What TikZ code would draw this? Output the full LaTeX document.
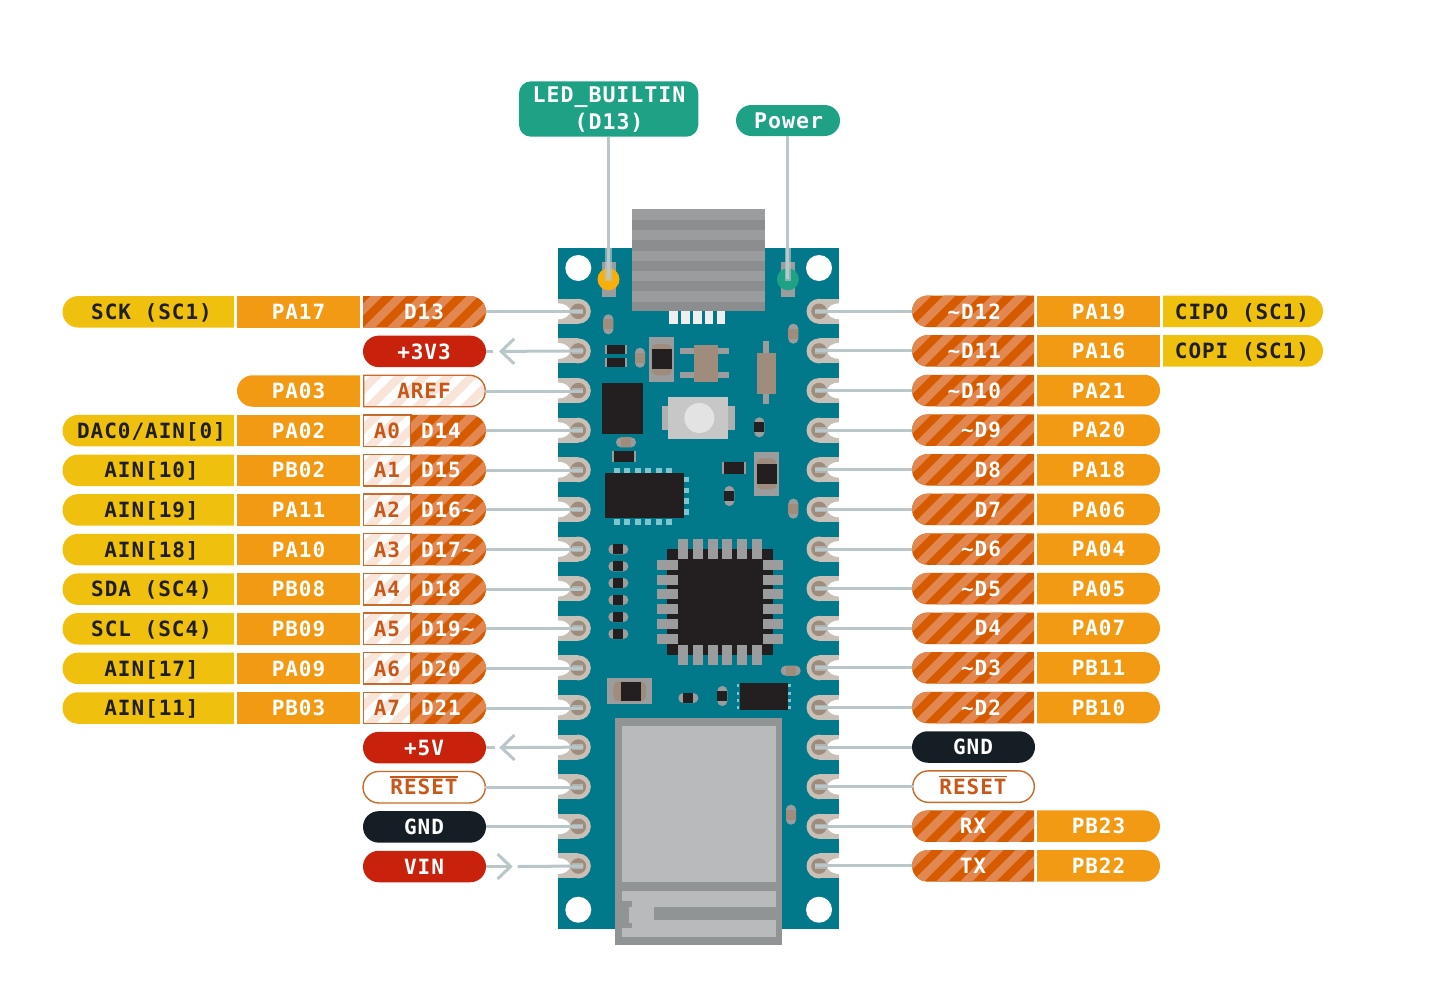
\documentclass[tikz,border=0pt]{standalone}
\usepackage{fontspec}
\usetikzlibrary{shapes.misc,arrows.meta}
\newfontfamily\pinfont[BoldFont={DejaVu Sans Mono Bold},LetterSpace=4.6]{DejaVu Sans Mono}
\definecolor{cyellow}{HTML}{F0C00F}
\definecolor{corange}{HTML}{F39A14}
\definecolor{hdark}{HTML}{D65A00}
\definecolor{hlight}{HTML}{E2874F}
\definecolor{hpale}{HTML}{F9E4D9}
\definecolor{cred}{HTML}{C8220C}
\definecolor{cblack}{HTML}{161E25}
\definecolor{ctext}{HTML}{C8581A}
\definecolor{cborder}{HTML}{C9692A}
\definecolor{cteal}{HTML}{1FA186}
\definecolor{cboard}{HTML}{02798A}
\definecolor{cwire}{HTML}{B9C6CA}
\definecolor{cpad}{HTML}{C8C0B7}
\definecolor{cbrown}{HTML}{A08C7C}
\definecolor{cgray}{HTML}{9A9C9D}
\definecolor{cgrayd}{HTML}{8B8D8E}
\definecolor{cchip}{HTML}{231F20}
\definecolor{csky}{HTML}{7FC5CE}
\definecolor{cmod}{HTML}{919494}
\definecolor{cmodl}{HTML}{B8BABB}
\newcommand\tld{\char"7E }
\newcommand\usc{\char"5F }
\tikzset{
  seg/.style={inner sep=0pt,outer sep=0pt,minimum height=31.5pt},
  pillboth/.style={seg,rounded rectangle},
  pillwest/.style={seg,rounded rectangle,rounded rectangle east arc=none},
  pilleast/.style={seg,rounded rectangle,rounded rectangle west arc=none},
  box/.style={seg,rectangle},
  hatch/.style 2 args={fill=#1,path picture={
    \foreach \k in {-3,...,9}{
      \fill[#2] ([xshift=\k*24pt]path picture bounding box.south west) -- ++(12,0) -- ++(34,-34) -- ++(-12,0) -- cycle;
    }}},
  fyellow/.style={fill=cyellow},
  forange/.style={fill=corange},
  fred/.style={fill=cred},
  fblack/.style={fill=cblack},
  dighatch/.style={hatch={hdark}{hlight}},
  palehatch/.style={hatch={white}{hpale},draw=cborder,line width=1.4pt},
  outl/.style={fill=white,draw=cborder,line width=1.4pt},
  pintext/.style={font=\pinfont\bfseries\fontsize{21}{24}\selectfont,inner sep=0pt,outer sep=0pt},
  tagtext/.style={font=\pinfont\bfseries\fontsize{21.6}{24}\selectfont,inner sep=0pt,outer sep=0pt,text=white},
  tdark/.style={pintext,text=black!88},
  twhite/.style={pintext,text=white},
  torange/.style={pintext,text=ctext},
  wire/.style={draw=cwire,line width=3pt},
  chev/.style={wire,-{Straight Barb[length=13pt,width=25pt]}},
  zoomA/.style={shift={(550,200)},x=.333333pt,y=-.333333pt},
  zoomB/.style={shift={(550,520)},x=.333333pt,y=-.333333pt},
  zoomC/.style={shift={(550,700)},x=.333333pt,y=-.333333pt},
}
\newcommand\seg[5]{\node[#2,minimum width={(#4-#3)*1pt}] (#1) at ({(#3+#4)/2},#5) {};}
\newcommand\txt[6]{\node[#2,anchor=#5] (#1) at (#3,{#4+7.7}) {#6};}
% left rows
\newcommand\leftrow[5]{%
  \pgfmathsetmacro\yy{311.8+39.62*#1}%
  \seg{ly#1}{pillwest,fyellow}{62.5}{234}{\yy}\txt{tly#1}{tdark}{151.5}{\yy}{base}{#2}%
  \seg{lo#1}{box,forange}{237}{360}{\yy}\txt{tlo#1}{twhite}{298.5}{\yy}{base}{#3}%
  \seg{la#1}{box,palehatch}{363.7}{411}{\yy}\txt{tla#1}{torange}{387}{\yy}{base}{#4}%
  \seg{ld#1}{pilleast,dighatch}{411}{486}{\yy}\txt{tld#1}{twhite}{421}{\yy}{base west}{#5}%
}
% right rows
\newcommand\rightrow[3]{%
  \pgfmathsetmacro\yy{311.3+39.62*#1}%
  \seg{rd#1}{pillwest,dighatch}{912}{1034}{\yy}\txt{trd#1}{twhite}{1001}{\yy}{base east}{#2}%
  \seg{ro#1}{pilleast,forange}{1037}{1160}{\yy}\txt{tro#1}{twhite}{1098.5}{\yy}{base}{#3}%
}
\newcommand\capV[3]{\fill[cgray,rounded corners=4.9pt] (#1-15,#2-30) rectangle (#1+15,#2+30);\fill[#3] (#1-15,#2-15) rectangle (#1+15,#2+15);}
\newcommand\capH[3]{\fill[cgray,rounded corners=4.9pt] (#1-30,#2-15) rectangle (#1+30,#2+15);\fill[#3] (#1-15,#2-15) rectangle (#1+15,#2+15);}
\begin{document}
\begin{tikzpicture}[x=1pt,y=-1pt]
\useasboundingbox (0,0) rectangle (1447,1002);
% board
\fill[cboard] (558,248) rectangle (839.3,929.3);
% heat sink / USB shell
\begin{scope}[zoomA]
  \fill[cgray] (246,28) rectangle (645,332);
  \foreach \a/\b in {60/90,120/152,182/212,243/273,305/332}{\fill[cgrayd] (246,\a) rectangle (645,\b);}
  \foreach \a in {358,394,430,465,501}{\fill[white!84!cgray] (\a,333) rectangle (\a+25,373);}
\end{scope}
% mounting holes
\foreach \x/\y in {578.3/268,819/268,578.3/909.7,819/909.7}{\fill[white] (\x,\y) circle[radius=13];}
% castellated pads
\foreach \i in {0,...,14}{
  \pgfmathsetmacro\py{311.3+39.62*\i}
  \fill[cpad] (558,\py-12.5) rectangle (578.3,\py+12.5);
  \fill[cpad] (578.3,\py) circle[radius=12.5];
  \fill[white] (558,\py) ellipse[x radius=12,y radius=8];
  \fill[cbrown] (578.3,\py) circle[radius=7.8];
  \fill[cpad] (839.3,\py-12.5) rectangle (819,\py+12.5);
  \fill[cpad] (819,\py) circle[radius=12.5];
  \fill[white] (839.3,\py) ellipse[x radius=12,y radius=8];
  \fill[cbrown] (819,\py) circle[radius=7.8];
  \fill[cwire!70!cbrown] (572,\py-2.8) rectangle (583.3,\py+2.8);
  \fill[cwire!70!cbrown] (815,\py-2.8) rectangle (826,\py+2.8);
  \coordinate (lp\i) at (583.3,\py);
  \coordinate (rp\i) at (815,\py);
}
% upper components
\begin{scope}[zoomA]
  \capV{175}{373}{cbrown}\capV{270}{473}{cbrown}\capV{730}{401}{cbrown}\capV{730}{926}{cbrown}
  \capH{228}{727}{cbrown}\capV{628}{682}{cchip}\capV{538}{888}{cchip}
  \fill[cgray] (165,434) rectangle (232,463);\fill[cchip] (171,434) rectangle (226,463);
  \fill[cgray] (165,473) rectangle (232,502);\fill[cchip] (171,473) rectangle (226,502);
  \fill[cgray] (187,752) rectangle (257,787);\fill[cchip] (192,752) rectangle (252,787);
  \fill[cgray] (517,785) rectangle (587,822);\fill[cchip] (522,785) rectangle (582,822);
  % large capacitors
  \fill[cgray] (297,412) rectangle (373,545);\fill[cbrown,rounded corners=5pt] (305,432) rectangle (365,526);\fill[cchip] (305,447) rectangle (365,508);
  \fill[cgray] (611,755) rectangle (687,888);\fill[cbrown,rounded corners=5pt] (620,775) rectangle (680,868);\fill[cchip] (620,792) rectangle (680,852);
  % transistor and diode
  \fill[cgray] (390,445) rectangle (538,463);\fill[cgray] (390,516) rectangle (538,535);\fill[cbrown] (433,435) rectangle (505,545);
  \fill[cgray] (640,422) rectangle (658,612);\fill[cbrown] (620,460) rectangle (678,583);
  % black block and button
  \fill[cchip] (157,549) rectangle (279,702);
  \fill[cgray!80!white] (337,617) rectangle (555,690);
  \fill[white!78!black] (355,592) rectangle (533,716);
  \fill[white!89!black] (448,654) circle[radius=45];
  % chip with pads
  \fill[cchip] (165,820) rectangle (401,955);
  \foreach \a in {192,223,255,286,318,349}{\fill[csky] (\a,803) rectangle (\a+18,818);\fill[csky] (\a,958) rectangle (\a+18,974);}
  \foreach \a in {830,863,895,928}{\fill[csky] (402,\a) rectangle (416,\a+17);}
\end{scope}
\begin{scope}[zoomB]
  \foreach \a in {88,139,189,240,291,342}{\capH{205}{\a}{cchip}}
  \capH{415}{534}{cchip}\capV{517}{528}{cchip}\capH{722}{452}{cbrown}
  % microcontroller
  \fill[cchip] (351,86) rectangle (669,404);
  \foreach \a in {400,444,488,532,577,621}{\fill[cgray] (\a-15,56) rectangle (\a+15,118);\fill[cgray] (\a-15,374) rectangle (\a+15,435);}
  \foreach \a in {135,179,223,267,313,357}{\fill[cgray] (321,\a-15) rectangle (383,\a+15);\fill[cgray] (638,\a-15) rectangle (699,\a+15);}
  % large inductor
  \fill[cgray] (172,475) rectangle (306,551);\fill[cbrown,rounded corners=5pt] (190,485) rectangle (288,543);\fill[cchip] (212,485) rectangle (272,543);
  % small chip
  \fill[cchip] (571,489) rectangle (713,570);
  \foreach \a in {493,515,536,558}{\fill[csky] (562,\a) rectangle (568,\a+9);\fill[csky] (715,\a) rectangle (722,\a+9);}
\end{scope}
\begin{scope}[zoomC]
  \capV{723}{344}{cbrown}
  % radio module
  \fill[cmod] (195,53) rectangle (697,735);
  \fill[cmodl] (217,78) rectangle (677,546);
  \fill[cmodl] (217,573) rectangle (677,710);
  \fill[cmod] (311,622) rectangle (677,660);
  \fill[cmod] (217,603) rectangle (238,683);
  \fill[cmod] (217,603) rectangle (246,620);
  \fill[cmod] (217,668) rectangle (246,683);
\end{scope}
% LEDs
\fill[cgray] (602.3,261.7) rectangle (615.7,296.7);
\fill[cgray] (781,261.7) rectangle (795,296.7);
\node[circle,fill=corange!60!yellow!90!red,minimum size=22pt,inner sep=0pt,outer sep=0pt] (ledy) at (608.5,279.3) {};
\node[circle,fill=cteal,minimum size=22pt,inner sep=0pt,outer sep=0pt] (ledg) at (787.9,279.3) {};
\fill[cwire,opacity=.65] (605.3,248) rectangle (611.7,281);
\fill[cwire,opacity=.65] (784.7,248) rectangle (791.1,281);
% top tags
\fill[cteal,rounded corners=12pt] (519,81.3) rectangle (698.3,136.7);
\coordinate (ledtagS) at (608.5,136.7);
\node[tagtext,anchor=base] (ledtag1) at (609,102.7) {LED\usc BUILTIN};
\node[tagtext,anchor=base] (ledtag2) at (609,129) {(D13)};
\node[pillboth,fill=cteal,minimum width=104pt,minimum height=31pt] (pwrtag) at (788,120.5) {};
\node[tagtext,anchor=base] (pwrtxt) at (788.5,128.3) {Power};
\draw[wire] (ledtagS) -- (ledy.center);
\draw[wire] (pwrtag.south -| ledg.center) -- (ledg.center);
% left side
\leftrow{3}{DAC0/AIN[0]}{PA02}{A0}{D14}
\leftrow{4}{AIN[10]}{PB02}{A1}{D15}
\leftrow{5}{AIN[19]}{PA11}{A2}{D16\tld}
\leftrow{6}{AIN[18]}{PA10}{A3}{D17\tld}
\leftrow{7}{SDA (SC4)}{PB08}{A4}{D18}
\leftrow{8}{SCL (SC4)}{PB09}{A5}{D19\tld}
\leftrow{9}{AIN[17]}{PA09}{A6}{D20}
\leftrow{10}{AIN[11]}{PB03}{A7}{D21}
\seg{ly0}{pillwest,fyellow}{62.5}{234}{311.8}\txt{tly0}{tdark}{151.5}{311.8}{base}{SCK (SC1)}
\seg{lo0}{box,forange}{237}{360}{311.8}\txt{tlo0}{twhite}{298.5}{311.8}{base}{PA17}
\seg{ld0}{pilleast,dighatch}{363}{486}{311.8}\txt{tld0}{twhite}{424}{311.8}{base}{D13}
\seg{ld1}{pillboth,fred}{363}{486}{351.4}\txt{tld1}{twhite}{424}{351.4}{base}{+3V3}
\seg{lo2}{pillwest,forange}{237}{360}{391}\txt{tlo2}{twhite}{298.5}{391}{base}{PA03}
\seg{ld2}{pilleast,palehatch}{363.7}{485.3}{391}\txt{tld2}{torange}{424}{391}{base}{AREF}
\seg{ld11}{pillboth,fred}{363}{486}{747.6}\txt{tld11}{twhite}{424}{747.6}{base}{+5V}
\seg{ld12}{pillboth,outl}{363}{485.3}{787.2}\txt{tld12}{torange}{424}{787.2}{base}{RESET}
\seg{ld13}{pillboth,fblack}{363}{486}{826.9}\txt{tld13}{twhite}{424}{826.9}{base}{GND}
\seg{ld14}{pillboth,fred}{363}{486}{866.5}\txt{tld14}{twhite}{424}{866.5}{base}{VIN}
\draw[draw=ctext,line width=1.5pt] ([yshift=2.3pt]tld12.north west) -- ([yshift=2.3pt]tld12.north east);
% right side
\seg{rd0}{pillwest,dighatch}{912}{1034}{311.3}\txt{trd0}{twhite}{1001}{311.3}{base east}{\tld D12}
\seg{ro0}{box,forange}{1037}{1160}{311.3}\txt{tro0}{twhite}{1098.5}{311.3}{base}{PA19}
\seg{ry0}{pilleast,fyellow}{1163}{1323}{311.3}\txt{try0}{tdark}{1242}{311.3}{base}{CIPO (SC1)}
\seg{rd1}{pillwest,dighatch}{912}{1034}{350.9}\txt{trd1}{twhite}{1001}{350.9}{base east}{\tld D11}
\seg{ro1}{box,forange}{1037}{1160}{350.9}\txt{tro1}{twhite}{1098.5}{350.9}{base}{PA16}
\seg{ry1}{pilleast,fyellow}{1163}{1323}{350.9}\txt{try1}{tdark}{1242}{350.9}{base}{COPI (SC1)}
\rightrow{2}{\tld D10}{PA21}
\rightrow{3}{\tld D9}{PA20}
\rightrow{4}{D8}{PA18}
\rightrow{5}{D7}{PA06}
\rightrow{6}{\tld D6}{PA04}
\rightrow{7}{\tld D5}{PA05}
\rightrow{8}{D4}{PA07}
\rightrow{9}{\tld D3}{PB11}
\rightrow{10}{\tld D2}{PB10}
\seg{rd11}{pillboth,fblack}{912}{1035}{747}\txt{trd11}{twhite}{973}{747}{base}{GND}
\seg{rd12}{pillboth,outl}{912.7}{1034.3}{786.6}\txt{trd12}{torange}{973}{786.6}{base}{RESET}
\draw[draw=ctext,line width=1.5pt] ([yshift=2.3pt]trd12.north west) -- ([yshift=2.3pt]trd12.north east);
\seg{rd13}{pillwest,dighatch}{912}{1034}{826.2}\txt{trd13}{twhite}{973}{826.2}{base}{RX}
\seg{ro13}{pilleast,forange}{1037}{1160}{826.2}\txt{tro13}{twhite}{1098.5}{826.2}{base}{PB23}
\seg{rd14}{pillwest,dighatch}{912}{1034}{865.9}\txt{trd14}{twhite}{973}{865.9}{base}{TX}
\seg{ro14}{pilleast,forange}{1037}{1160}{865.9}\txt{tro14}{twhite}{1098.5}{865.9}{base}{PB22}
% connectors
\foreach \i in {0,2,3,4,5,6,7,8,9,10,12,13}{\draw[wire] (ld\i.east) -- (ld\i.east -| lp\i);}
\foreach \i in {0,...,14}{\draw[wire] (rd\i.west) -- (rp\i |- rd\i.west);}
\coordinate (tipA) at (499,351.4);
\coordinate (dashA) at (493,351.4);
\draw[chev] (lp1) -- (tipA);
\draw[wire] (ld1.east) -- (dashA);
\coordinate (tipB) at (499.3,747.6);
\coordinate (dashB) at (494.7,747.6);
\draw[chev] (lp11) -- (tipB);
\draw[wire] (ld11.east) -- (dashB);
\coordinate (tipC) at (512.7,866.5);
\coordinate (gapC) at (517.7,866.5);
\draw[chev] (ld14.east) -- (tipC);
\draw[wire] (gapC) -- (lp14);
\end{tikzpicture}
\end{document}
